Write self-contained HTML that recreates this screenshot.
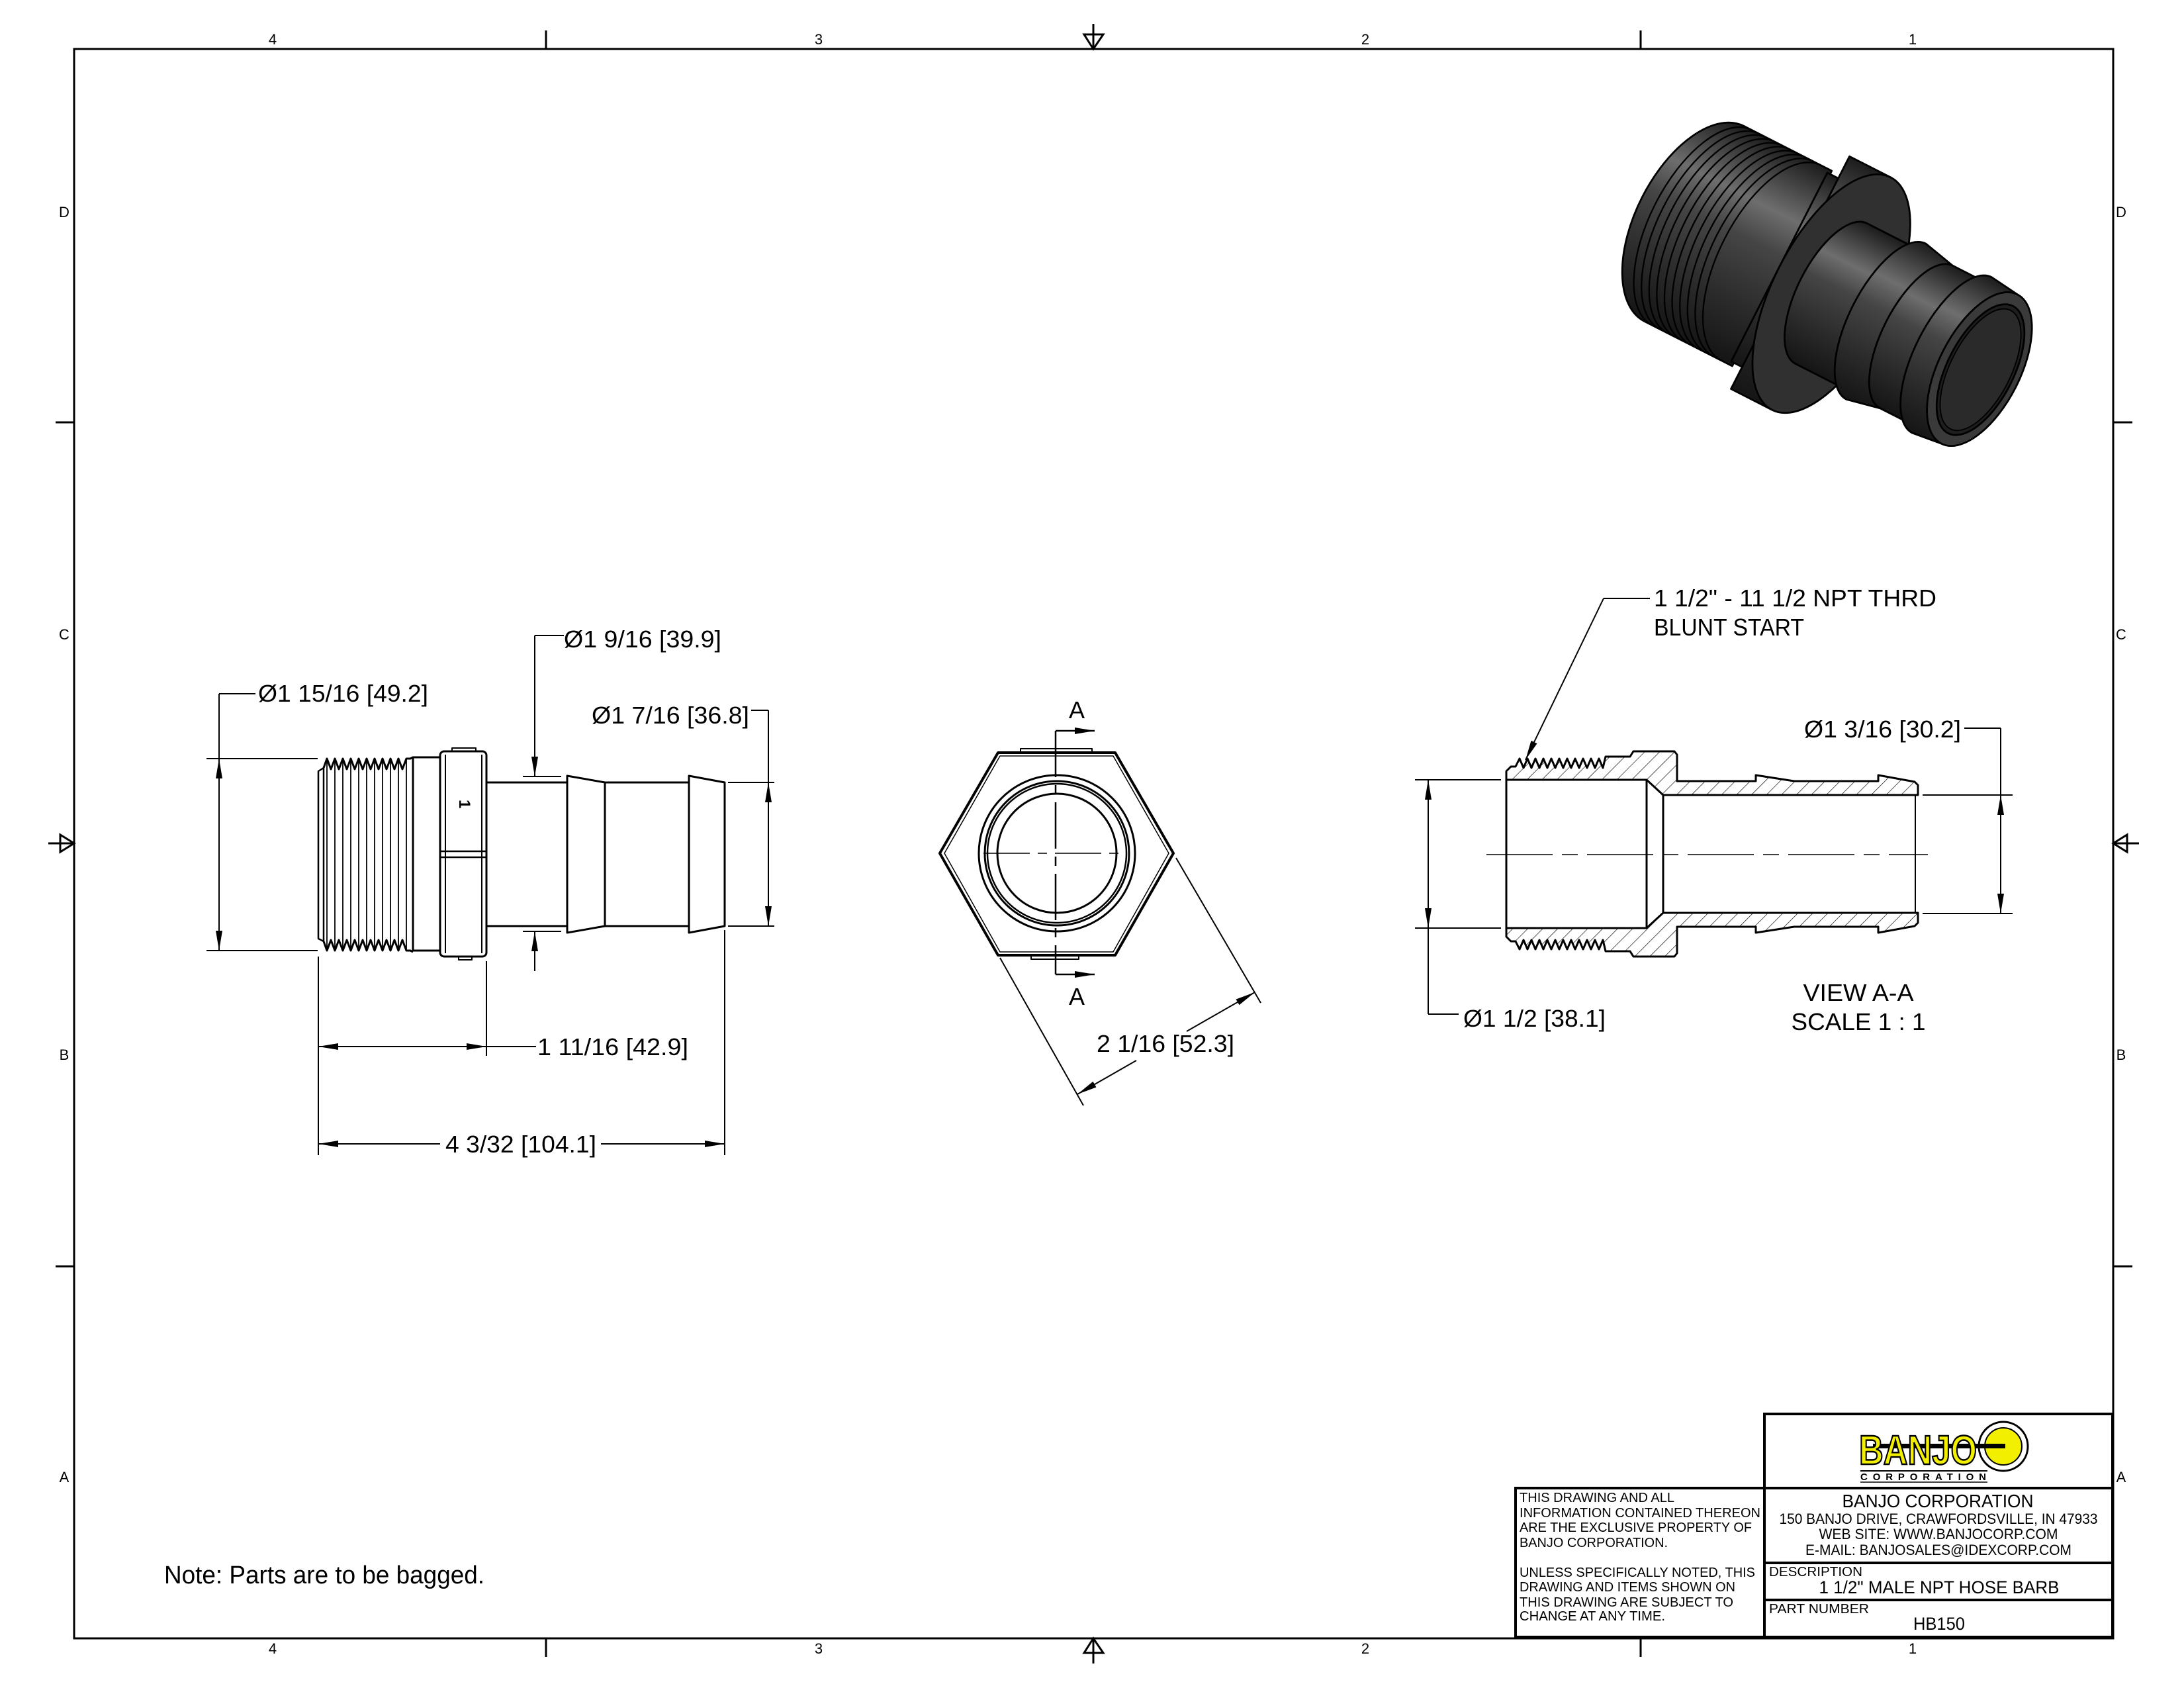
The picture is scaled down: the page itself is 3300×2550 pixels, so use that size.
<!DOCTYPE html>
<html><head><meta charset="utf-8"><style>
html,body{margin:0;padding:0;background:#fff;}
svg{display:block;}
text{font-family:"Liberation Sans",Arial,sans-serif;fill:#000;}
</style></head><body>
<svg width="3300" height="2550" viewBox="0 0 3300 2550" xmlns="http://www.w3.org/2000/svg">
<defs>
<marker id="ar" viewBox="0 0 30 10" refX="30" refY="5" markerWidth="30" markerHeight="10" markerUnits="userSpaceOnUse" orient="auto-start-reverse"><path d="M0,0 L30,5 L0,10 z" fill="#000"/></marker>
<pattern id="hatch" patternUnits="userSpaceOnUse" width="16" height="16" patternTransform="rotate(45)"><line x1="0" y1="0" x2="0" y2="16" stroke="#000" stroke-width="1.3"/></pattern>
<linearGradient id="g3" x1="0" y1="0" x2="0" y2="1"><stop offset="0" stop-color="#1c1c1c"/><stop offset="0.28" stop-color="#6e6e6e"/><stop offset="0.45" stop-color="#454545"/><stop offset="0.75" stop-color="#2a2a2a"/><stop offset="1" stop-color="#151515"/></linearGradient>
</defs>
<rect width="3300" height="2550" fill="#fff"/>
<!-- border -->
<g stroke="#000" stroke-width="3" fill="none">
<rect x="112" y="74" width="3081" height="2401"/>
<line x1="825" y1="46" x2="825" y2="74"/><line x1="2479" y1="46" x2="2479" y2="74"/>
<line x1="825" y1="2475" x2="825" y2="2503"/><line x1="2479" y1="2475" x2="2479" y2="2503"/>
<line x1="84" y1="638" x2="112" y2="638"/><line x1="84" y1="1913" x2="112" y2="1913"/>
<line x1="3193" y1="638" x2="3222" y2="638"/><line x1="3193" y1="1913" x2="3222" y2="1913"/>
<line x1="1652" y1="36" x2="1652" y2="74"/><path d="M1638,52 L1667,52 L1652,74 z"/>
<line x1="1652" y1="2475" x2="1652" y2="2513"/><path d="M1638,2497 L1667,2497 L1652,2475 z"/>
<line x1="73" y1="1274" x2="112" y2="1274"/><path d="M91,1261 L91,1287 L112,1274 z"/>
<line x1="3193" y1="1274" x2="3232" y2="1274"/><path d="M3214,1261 L3214,1287 L3193,1274 z"/>
</g>
<g font-size="22" text-anchor="middle">
<text x="412" y="67">4</text><text x="1237" y="67">3</text><text x="2063" y="67">2</text><text x="2890" y="67">1</text>
<text x="412" y="2498">4</text><text x="1237" y="2498">3</text><text x="2063" y="2498">2</text><text x="2890" y="2498">1</text>
<text x="97" y="328">D</text><text x="97" y="966">C</text><text x="97" y="1601">B</text><text x="97" y="2239">A</text>
<text x="3205" y="328">D</text><text x="3205" y="966">C</text><text x="3205" y="1601">B</text><text x="3205" y="2239">A</text>
</g>

<!-- LEFT VIEW -->
<g stroke="#000" stroke-width="3" fill="none" stroke-linejoin="round">
<path d="M481,1165 L489,1160 L489,1422 L481,1418 z" stroke-width="2.5"/>
<path d="M489,1160 L494,1146 L500,1162 L506,1146 L512,1162 L518,1146 L524,1162 L530,1146 L536,1162 L542,1146 L548,1162 L554,1146 L560,1162 L566,1146 L572,1162 L578,1146 L584,1162 L590,1146 L596,1162 L602,1146 L608,1162 L614,1146 L620,1146 L624,1144"/>
<path d="M489,1422 L494,1436 L500,1420 L506,1436 L512,1420 L518,1436 L524,1420 L530,1436 L536,1420 L542,1436 L548,1420 L554,1436 L560,1420 L566,1436 L572,1420 L578,1436 L584,1420 L590,1436 L596,1420 L602,1436 L608,1420 L614,1436 L620,1436 L624,1438"/>
<g stroke-width="1.8"><line x1="494" y1="1146" x2="494" y2="1436"/><line x1="506" y1="1146" x2="506" y2="1436"/><line x1="518" y1="1146" x2="518" y2="1436"/><line x1="530" y1="1146" x2="530" y2="1436"/><line x1="542" y1="1146" x2="542" y2="1436"/><line x1="554" y1="1146" x2="554" y2="1436"/><line x1="566" y1="1146" x2="566" y2="1436"/><line x1="578" y1="1146" x2="578" y2="1436"/><line x1="590" y1="1146" x2="590" y2="1436"/><line x1="602" y1="1146" x2="602" y2="1436"/><line x1="614" y1="1146" x2="614" y2="1436"/></g>
<rect x="624" y="1144" width="41" height="292"/>
<rect x="665" y="1135" width="70" height="310" rx="6"/>
<line x1="673" y1="1140" x2="673" y2="1440" stroke-width="2"/>
<line x1="728" y1="1140" x2="728" y2="1440" stroke-width="2"/>
<path d="M665,1286 L735,1286 M665,1295 L735,1295" stroke-width="2.5"/>
<rect x="683" y="1130" width="36" height="5" stroke-width="2"/>
<rect x="693" y="1445" width="20" height="5" stroke-width="2"/>
<rect x="735" y="1182" width="122" height="217"/>
<path d="M857,1172 L914,1182 L914,1399 L857,1409 z"/>
<rect x="914" y="1182" width="127" height="217"/>
<path d="M1041,1172 L1095,1182 L1095,1399 L1041,1409 z"/>
</g>
<text x="0" y="0" font-size="24" font-weight="bold" transform="translate(694,1208) rotate(90)">1</text>
<!-- left dims -->
<g stroke="#000" stroke-width="2" fill="none">
<line x1="312" y1="1146" x2="480" y2="1146"/><line x1="312" y1="1436" x2="480" y2="1436"/>
<line x1="331" y1="1048" x2="386" y2="1048"/><line x1="331" y1="1048" x2="331" y2="1146"/>
<line x1="331" y1="1146" x2="331" y2="1436" marker-start="url(#ar)" marker-end="url(#ar)"/>
<line x1="790" y1="1173" x2="848" y2="1173"/><line x1="790" y1="1407" x2="848" y2="1407"/>
<line x1="808" y1="960" x2="852" y2="960"/>
<line x1="808" y1="960" x2="808" y2="1173" marker-end="url(#ar)"/>
<line x1="808" y1="1467" x2="808" y2="1407" marker-end="url(#ar)"/>
<line x1="1100" y1="1182" x2="1170" y2="1182"/><line x1="1100" y1="1399" x2="1170" y2="1399"/>
<line x1="1135" y1="1073" x2="1161" y2="1073"/><line x1="1161" y1="1073" x2="1161" y2="1182"/>
<line x1="1161" y1="1182" x2="1161" y2="1399" marker-start="url(#ar)" marker-end="url(#ar)"/>
<line x1="481" y1="1445" x2="481" y2="1745"/><line x1="735" y1="1452" x2="735" y2="1595"/><line x1="1095" y1="1405" x2="1095" y2="1745"/>
<line x1="481" y1="1581" x2="735" y2="1581" marker-start="url(#ar)" marker-end="url(#ar)"/>
<line x1="735" y1="1581" x2="810" y2="1581"/>
<line x1="481" y1="1728" x2="665" y2="1728" marker-start="url(#ar)"/>
<line x1="908" y1="1728" x2="1095" y2="1728" marker-end="url(#ar)"/>
</g>
<g font-size="36">
<text x="390" y="1060" textLength="257" lengthAdjust="spacingAndGlyphs">Ø1 15/16 [49.2]</text>
<text x="852" y="978" textLength="238" lengthAdjust="spacingAndGlyphs">Ø1 9/16 [39.9]</text>
<text x="894" y="1093" textLength="238" lengthAdjust="spacingAndGlyphs">Ø1 7/16 [36.8]</text>
<text x="812" y="1594" textLength="228" lengthAdjust="spacingAndGlyphs">1 11/16 [42.9]</text>
<text x="673" y="1741" textLength="228" lengthAdjust="spacingAndGlyphs">4 3/32 [104.1]</text>
</g>

<!-- HEX VIEW -->
<g stroke="#000" fill="none" stroke-linejoin="round">
<polygon points="1420,1289 1508,1137 1685,1137 1773,1289 1685,1443 1508,1443" stroke-width="4"/>
<polygon points="1427,1289 1511,1142 1682,1142 1766,1289 1682,1438 1511,1438" stroke-width="1.5"/>
<circle cx="1597" cy="1289" r="118" stroke-width="3"/>
<circle cx="1597" cy="1289" r="109" stroke-width="3"/>
<circle cx="1597" cy="1289" r="105" stroke-width="2.5"/>
<circle cx="1597" cy="1289" r="90" stroke-width="3"/>
<rect x="1542" y="1131" width="108" height="5" stroke-width="2"/>
<rect x="1558" y="1444" width="72" height="5" stroke-width="2"/>
<line x1="1486" y1="1289" x2="1702" y2="1289" stroke-width="1.5" stroke-dasharray="70,12,14,12"/>
<line x1="1595" y1="1104" x2="1595" y2="1472" stroke-width="2.5" stroke-dasharray="70,12,14,12"/>
<line x1="1595" y1="1104" x2="1654" y2="1104" stroke-width="2.5" marker-end="url(#ar)"/>
<line x1="1595" y1="1472" x2="1654" y2="1472" stroke-width="2.5" marker-end="url(#ar)"/>
<g stroke-width="2">
<line x1="1777" y1="1296" x2="1905" y2="1515"/>
<line x1="1511" y1="1447" x2="1637" y2="1670"/>
<line x1="1717" y1="1602" x2="1628" y2="1653" marker-end="url(#ar)"/>
<line x1="1793" y1="1558" x2="1896" y2="1499" marker-end="url(#ar)"/>
</g>
</g>
<g font-size="36">
<text x="1627" y="1085" text-anchor="middle">A</text>
<text x="1627" y="1518" text-anchor="middle">A</text>
<text x="1657" y="1589" textLength="208" lengthAdjust="spacingAndGlyphs">2 1/16 [52.3]</text>
</g>

<!-- SECTION VIEW -->
<g stroke="#000" stroke-width="3" stroke-linejoin="round">
<path fill="url(#hatch)" d="M2276,1165 L2283,1158 L2290,1158 L2296,1146 L2302,1160 L2308,1146 L2314,1160 L2320,1146 L2326,1160 L2332,1146 L2338,1160 L2344,1146 L2350,1160 L2356,1146 L2362,1160 L2368,1146 L2374,1160 L2380,1146 L2386,1160 L2392,1146 L2398,1160 L2404,1146 L2410,1160 L2416,1146 L2422,1160 L2426,1143 L2463,1143 L2468,1135 L2530,1135 L2534,1140 L2534,1180 L2653,1180 L2653,1171 L2711,1180 L2838,1180 L2838,1171 L2893,1181 L2898,1186 L2898,1201 L2513,1201 L2488,1178 L2276,1178 z"/>
<path fill="url(#hatch)" d="M2276,1415 L2283,1422 L2290,1422 L2296,1434 L2302,1420 L2308,1434 L2314,1420 L2320,1434 L2326,1420 L2332,1434 L2338,1420 L2344,1434 L2350,1420 L2356,1434 L2362,1420 L2368,1434 L2374,1420 L2380,1434 L2386,1420 L2392,1434 L2398,1420 L2404,1434 L2410,1420 L2416,1434 L2422,1420 L2426,1437 L2463,1437 L2468,1445 L2530,1445 L2534,1440 L2534,1400 L2653,1400 L2653,1409 L2711,1400 L2838,1400 L2838,1409 L2893,1399 L2898,1394 L2898,1379 L2513,1379 L2488,1402 L2276,1402 z"/>
<g fill="none">
<line x1="2276" y1="1178" x2="2276" y2="1402"/>
<line x1="2488" y1="1178" x2="2488" y2="1402"/>
<line x1="2513" y1="1201" x2="2513" y2="1379"/>
<line x1="2894" y1="1201" x2="2894" y2="1379" stroke-width="2"/>
</g>
</g>
<g stroke="#000" fill="none" stroke-width="2">
<line x1="2246" y1="1291" x2="2913" y2="1291" stroke-width="1.5" stroke-dasharray="100,14,24,14"/>
<line x1="2138" y1="1178" x2="2268" y2="1178"/><line x1="2138" y1="1402" x2="2268" y2="1402"/>
<line x1="2158" y1="1178" x2="2158" y2="1402" marker-start="url(#ar)" marker-end="url(#ar)"/>
<line x1="2158" y1="1402" x2="2158" y2="1532"/><line x1="2158" y1="1532" x2="2204" y2="1532"/>
<line x1="2905" y1="1201" x2="3041" y2="1201"/><line x1="2905" y1="1380" x2="3041" y2="1380"/>
<line x1="2968" y1="1100" x2="3023" y2="1100"/><line x1="3023" y1="1100" x2="3023" y2="1201"/>
<line x1="3023" y1="1201" x2="3023" y2="1380" marker-start="url(#ar)" marker-end="url(#ar)"/>
<line x1="2493" y1="904" x2="2423" y2="904"/>
<line x1="2423" y1="904" x2="2305" y2="1148" marker-end="url(#ar)"/>
</g>
<g font-size="36">
<text x="2499" y="916" textLength="427" lengthAdjust="spacingAndGlyphs">1 1/2" - 11 1/2 NPT THRD</text>
<text x="2499" y="960" textLength="227" lengthAdjust="spacingAndGlyphs">BLUNT START</text>
<text x="2726" y="1114" textLength="237" lengthAdjust="spacingAndGlyphs">Ø1 3/16 [30.2]</text>
<text x="2211" y="1551" textLength="215" lengthAdjust="spacingAndGlyphs">Ø1 1/2 [38.1]</text>
<text x="2808" y="1512" text-anchor="middle" textLength="167" lengthAdjust="spacingAndGlyphs">VIEW A-A</text>
<text x="2808" y="1556" text-anchor="middle" textLength="203" lengthAdjust="spacingAndGlyphs">SCALE 1 : 1</text>
</g>

<!-- 3D ISO -->
<g transform="translate(2560,338) rotate(27) scale(0.93)" stroke="#000" stroke-width="3" stroke-linejoin="round">
<path fill="url(#g3)" d="M0,-178 L160,-178 L160,178 L0,178 A95,178 0 0 1 0,-178 z"/>
<g fill="none" stroke-width="2.5">
<path d="M14,-178 A85,178 0 0 0 14,178"/><path d="M28,-178 A85,178 0 0 0 28,178"/><path d="M42,-178 A85,178 0 0 0 42,178"/><path d="M56,-178 A85,178 0 0 0 56,178"/><path d="M70,-178 A85,178 0 0 0 70,178"/><path d="M84,-178 A85,178 0 0 0 84,178"/><path d="M98,-178 A85,178 0 0 0 98,178"/><path d="M112,-178 A85,178 0 0 0 112,178"/><path d="M126,-178 A85,178 0 0 0 126,178"/><path d="M140,-178 A85,178 0 0 0 140,178"/>
</g>
<path fill="url(#g3)" d="M155,-172 L180,-172 L180,172 L155,172 z"/>
<path fill="url(#g3)" d="M175,-212 L250,-212 L250,212 L175,212 z"/>
<ellipse cx="250" cy="0" rx="95" ry="212" fill="#303030"/>
<path fill="url(#g3)" d="M250,-128 L350,-128 L350,128 L250,128 A55,128 0 0 1 250,-128 z"/>
<path fill="url(#g3)" d="M350,-142 L405,-130 L405,130 L350,142 A60,142 0 0 1 350,-142 z"/>
<path fill="url(#g3)" d="M405,-130 L470,-130 L470,130 L405,130 A55,130 0 0 1 405,-130 z"/>
<path fill="url(#g3)" d="M470,-142 L520,-136 L520,136 L470,142 A60,142 0 0 1 470,-142 z"/>
<ellipse cx="520" cy="0" rx="66" ry="136" fill="#3a3a3a"/>
<ellipse cx="522" cy="0" rx="54" ry="116" fill="#1e1e1e"/>
<ellipse cx="522" cy="0" rx="49" ry="108" fill="#2a2a2a" stroke-width="2"/>
</g>

<!-- Note -->
<text x="248" y="2392" font-size="38" textLength="484" lengthAdjust="spacingAndGlyphs">Note: Parts are to be bagged.</text>

<!-- TITLE BLOCK -->
<g stroke="#000" stroke-width="4" fill="none">
<rect x="2666" y="2136" width="526" height="337"/>
<rect x="2290" y="2248" width="376" height="225"/>
<line x1="2666" y1="2248" x2="3192" y2="2248"/>
<line x1="2666" y1="2361" x2="3192" y2="2361"/>
<line x1="2666" y1="2417" x2="3192" y2="2417"/>
</g>
<g font-size="20">
<text x="2296" y="2269" textLength="234" lengthAdjust="spacingAndGlyphs">THIS DRAWING AND ALL</text>
<text x="2296" y="2292" textLength="364" lengthAdjust="spacingAndGlyphs">INFORMATION CONTAINED THEREON</text>
<text x="2296" y="2314" textLength="351" lengthAdjust="spacingAndGlyphs">ARE THE EXCLUSIVE PROPERTY OF</text>
<text x="2296" y="2337" textLength="224" lengthAdjust="spacingAndGlyphs">BANJO CORPORATION.</text>
<text x="2296" y="2382" textLength="356" lengthAdjust="spacingAndGlyphs">UNLESS SPECIFICALLY NOTED, THIS</text>
<text x="2296" y="2404" textLength="326" lengthAdjust="spacingAndGlyphs">DRAWING AND ITEMS SHOWN ON</text>
<text x="2296" y="2427" textLength="323" lengthAdjust="spacingAndGlyphs">THIS DRAWING ARE SUBJECT TO</text>
<text x="2296" y="2448" textLength="220" lengthAdjust="spacingAndGlyphs">CHANGE AT ANY TIME.</text>
<text x="2673" y="2381" textLength="141" lengthAdjust="spacingAndGlyphs">DESCRIPTION</text>
<text x="2673" y="2437" textLength="151" lengthAdjust="spacingAndGlyphs">PART NUMBER</text>
</g>
<text x="2928" y="2277" font-size="28" text-anchor="middle" textLength="289" lengthAdjust="spacingAndGlyphs">BANJO CORPORATION</text>
<g font-size="22" text-anchor="middle">
<text x="2929" y="2302" textLength="481" lengthAdjust="spacingAndGlyphs">150 BANJO DRIVE, CRAWFORDSVILLE, IN 47933</text>
<text x="2929" y="2325" textLength="361" lengthAdjust="spacingAndGlyphs">WEB SITE: WWW.BANJOCORP.COM</text>
<text x="2929" y="2349" textLength="402" lengthAdjust="spacingAndGlyphs">E-MAIL: BANJOSALES@IDEXCORP.COM</text>
</g>
<text x="2930" y="2407" font-size="27" text-anchor="middle" textLength="363" lengthAdjust="spacingAndGlyphs">1 1/2" MALE NPT HOSE BARB</text>
<text x="2930" y="2462" font-size="27" text-anchor="middle" textLength="78" lengthAdjust="spacingAndGlyphs">HB150</text>
<!-- logo -->
<circle cx="3027" cy="2185" r="37" fill="#fff" stroke="#000" stroke-width="3"/>
<circle cx="3027" cy="2185" r="28" fill="#f2f000" stroke="#000" stroke-width="2"/>
<rect x="2830" y="2181" width="200" height="7" fill="#000"/>
<text x="2809" y="2212" font-size="62" font-weight="bold" stroke="#000" stroke-width="2.5" textLength="178" lengthAdjust="spacingAndGlyphs" style="fill:#f2f000">BANJO</text>
<line x1="2811" y1="2222" x2="3003" y2="2222" stroke="#000" stroke-width="2"/>
<text x="2811" y="2236" font-size="15" font-weight="bold" textLength="190" lengthAdjust="spacing">CORPORATION</text>
<line x1="2811" y1="2239" x2="3003" y2="2239" stroke="#000" stroke-width="1.5"/>
</svg>
</body></html>
